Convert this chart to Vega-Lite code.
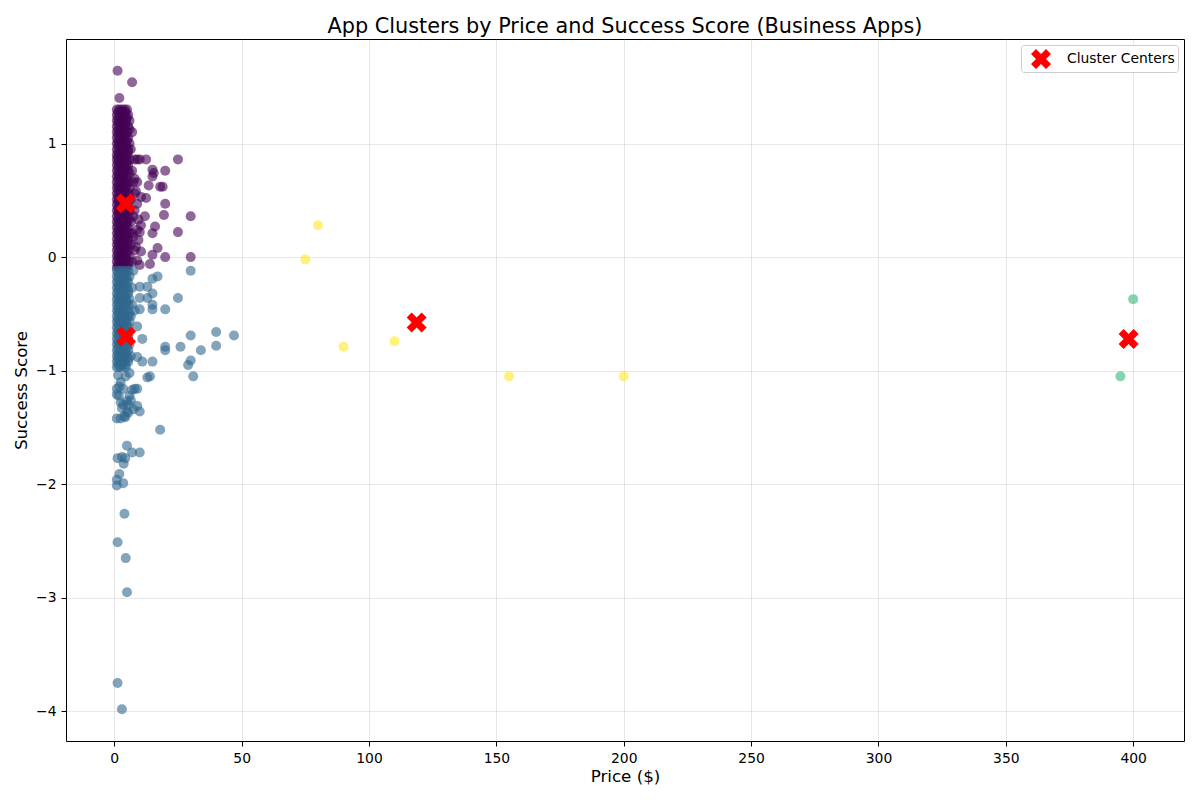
{
  "$schema": "https://vega.github.io/schema/vega-lite/v6.json",
  "width": 1118,
  "height": 702,
  "autosize": {"type": "none"},
  "padding": {"left": 66, "top": 39, "right": 16, "bottom": 59},
  "title": {
    "text": "App Clusters by Price and Success Score (Business Apps)",
    "frame": "group",
    "anchor": "middle",
    "baseline": "bottom",
    "offset": 4,
    "dy": 23,
    "font": "DejaVu Sans",
    "fontSize": 20.8,
    "fontWeight": "normal",
    "color": "black"
  },
  "datasets": {
    "apps": [
      {"price":0.99,"score":1.30,"cluster":0},{"price":1.99,"score":1.30,"cluster":0},{"price":2.99,"score":1.30,"cluster":0},{"price":3.99,"score":1.30,"cluster":0},{"price":4.99,"score":1.30,"cluster":0},
      {"price":0.99,"score":1.25,"cluster":0},{"price":2.49,"score":1.25,"cluster":0},{"price":3.99,"score":1.25,"cluster":0},{"price":5.49,"score":1.25,"cluster":0},
      {"price":0.99,"score":1.20,"cluster":0},{"price":1.99,"score":1.20,"cluster":0},{"price":2.99,"score":1.20,"cluster":0},{"price":4.49,"score":1.20,"cluster":0},{"price":5.99,"score":1.20,"cluster":0},
      {"price":0.99,"score":1.15,"cluster":0},{"price":2.49,"score":1.15,"cluster":0},{"price":3.99,"score":1.15,"cluster":0},{"price":5.49,"score":1.15,"cluster":0},
      {"price":0.99,"score":1.10,"cluster":0},{"price":1.99,"score":1.10,"cluster":0},{"price":3.49,"score":1.10,"cluster":0},{"price":4.99,"score":1.10,"cluster":0},{"price":6.99,"score":1.10,"cluster":0},
      {"price":0.99,"score":1.05,"cluster":0},{"price":2.49,"score":1.05,"cluster":0},{"price":3.99,"score":1.05,"cluster":0},{"price":5.49,"score":1.05,"cluster":0},
      {"price":0.99,"score":1.00,"cluster":0},{"price":1.99,"score":1.00,"cluster":0},{"price":2.99,"score":1.00,"cluster":0},{"price":4.49,"score":1.00,"cluster":0},{"price":5.99,"score":1.00,"cluster":0},
      {"price":0.99,"score":0.95,"cluster":0},{"price":2.49,"score":0.95,"cluster":0},{"price":3.99,"score":0.95,"cluster":0},{"price":5.49,"score":0.95,"cluster":0},{"price":6.49,"score":0.95,"cluster":0},
      {"price":0.99,"score":0.90,"cluster":0},{"price":1.99,"score":0.90,"cluster":0},{"price":3.49,"score":0.90,"cluster":0},{"price":4.99,"score":0.90,"cluster":0},
      {"price":0.99,"score":0.86,"cluster":0},{"price":2.49,"score":0.86,"cluster":0},{"price":3.99,"score":0.86,"cluster":0},{"price":5.99,"score":0.86,"cluster":0},{"price":7.99,"score":0.86,"cluster":0},{"price":8.99,"score":0.86,"cluster":0},
      {"price":0.99,"score":0.81,"cluster":0},{"price":1.99,"score":0.81,"cluster":0},{"price":2.99,"score":0.81,"cluster":0},{"price":4.49,"score":0.81,"cluster":0},{"price":5.49,"score":0.81,"cluster":0},
      {"price":0.99,"score":0.76,"cluster":0},{"price":2.49,"score":0.76,"cluster":0},{"price":3.99,"score":0.76,"cluster":0},{"price":5.49,"score":0.76,"cluster":0},{"price":6.99,"score":0.76,"cluster":0},
      {"price":0.99,"score":0.71,"cluster":0},{"price":1.99,"score":0.71,"cluster":0},{"price":3.49,"score":0.71,"cluster":0},{"price":4.99,"score":0.71,"cluster":0},
      {"price":0.99,"score":0.66,"cluster":0},{"price":2.49,"score":0.66,"cluster":0},{"price":3.99,"score":0.66,"cluster":0},{"price":5.49,"score":0.66,"cluster":0},{"price":7.49,"score":0.66,"cluster":0},
      {"price":0.99,"score":0.61,"cluster":0},{"price":1.99,"score":0.61,"cluster":0},{"price":2.99,"score":0.61,"cluster":0},{"price":4.49,"score":0.61,"cluster":0},{"price":5.99,"score":0.61,"cluster":0},
      {"price":0.99,"score":0.56,"cluster":0},{"price":2.49,"score":0.56,"cluster":0},{"price":3.99,"score":0.56,"cluster":0},{"price":5.49,"score":0.56,"cluster":0},{"price":7.99,"score":0.56,"cluster":0},
      {"price":0.99,"score":0.51,"cluster":0},{"price":1.99,"score":0.51,"cluster":0},{"price":3.49,"score":0.51,"cluster":0},{"price":4.99,"score":0.51,"cluster":0},{"price":6.49,"score":0.51,"cluster":0},
      {"price":0.99,"score":0.46,"cluster":0},{"price":2.49,"score":0.46,"cluster":0},{"price":3.99,"score":0.46,"cluster":0},{"price":5.49,"score":0.46,"cluster":0},
      {"price":0.99,"score":0.41,"cluster":0},{"price":1.99,"score":0.41,"cluster":0},{"price":2.99,"score":0.41,"cluster":0},{"price":4.49,"score":0.41,"cluster":0},{"price":5.99,"score":0.41,"cluster":0},{"price":7.99,"score":0.41,"cluster":0},
      {"price":0.99,"score":0.36,"cluster":0},{"price":2.49,"score":0.36,"cluster":0},{"price":3.99,"score":0.36,"cluster":0},{"price":5.49,"score":0.36,"cluster":0},
      {"price":0.99,"score":0.31,"cluster":0},{"price":1.99,"score":0.31,"cluster":0},{"price":3.49,"score":0.31,"cluster":0},{"price":4.99,"score":0.31,"cluster":0},{"price":6.49,"score":0.31,"cluster":0},
      {"price":0.99,"score":0.26,"cluster":0},{"price":2.49,"score":0.26,"cluster":0},{"price":3.99,"score":0.26,"cluster":0},{"price":5.49,"score":0.26,"cluster":0},
      {"price":0.99,"score":0.21,"cluster":0},{"price":1.99,"score":0.21,"cluster":0},{"price":2.99,"score":0.21,"cluster":0},{"price":4.49,"score":0.21,"cluster":0},{"price":5.99,"score":0.21,"cluster":0},{"price":6.99,"score":0.21,"cluster":0},
      {"price":0.99,"score":0.16,"cluster":0},{"price":2.49,"score":0.16,"cluster":0},{"price":3.99,"score":0.16,"cluster":0},{"price":5.49,"score":0.16,"cluster":0},
      {"price":0.99,"score":0.11,"cluster":0},{"price":1.99,"score":0.11,"cluster":0},{"price":3.49,"score":0.11,"cluster":0},{"price":4.99,"score":0.11,"cluster":0},{"price":6.49,"score":0.11,"cluster":0},
      {"price":0.99,"score":0.06,"cluster":0},{"price":2.49,"score":0.06,"cluster":0},{"price":3.99,"score":0.06,"cluster":0},{"price":5.49,"score":0.06,"cluster":0},{"price":7.99,"score":0.06,"cluster":0},
      {"price":0.99,"score":0.01,"cluster":0},{"price":1.99,"score":0.01,"cluster":0},{"price":2.99,"score":0.01,"cluster":0},{"price":4.49,"score":0.01,"cluster":0},{"price":5.99,"score":0.01,"cluster":0},
      {"price":0.99,"score":-0.04,"cluster":0},{"price":2.49,"score":-0.04,"cluster":0},{"price":3.99,"score":-0.04,"cluster":0},{"price":5.49,"score":-0.04,"cluster":0},{"price":6.99,"score":-0.04,"cluster":0},
      {"price":0.99,"score":-0.09,"cluster":0},{"price":1.99,"score":-0.09,"cluster":0},{"price":3.49,"score":-0.09,"cluster":0},{"price":4.99,"score":-0.09,"cluster":0},
      {"price":1.49,"score":1.275,"cluster":0},{"price":2.99,"score":1.275,"cluster":0},{"price":4.49,"score":1.275,"cluster":0},
      {"price":1.49,"score":1.225,"cluster":0},{"price":3.49,"score":1.225,"cluster":0},{"price":4.99,"score":1.225,"cluster":0},
      {"price":1.49,"score":1.175,"cluster":0},{"price":2.99,"score":1.175,"cluster":0},{"price":4.49,"score":1.175,"cluster":0},
      {"price":1.49,"score":1.125,"cluster":0},{"price":3.49,"score":1.125,"cluster":0},{"price":5.99,"score":1.125,"cluster":0},
      {"price":1.49,"score":1.075,"cluster":0},{"price":2.99,"score":1.075,"cluster":0},{"price":4.49,"score":1.075,"cluster":0},
      {"price":1.49,"score":1.025,"cluster":0},{"price":3.49,"score":1.025,"cluster":0},{"price":4.99,"score":1.025,"cluster":0},
      {"price":1.49,"score":0.975,"cluster":0},{"price":2.99,"score":0.975,"cluster":0},{"price":4.49,"score":0.975,"cluster":0},
      {"price":1.49,"score":0.925,"cluster":0},{"price":3.49,"score":0.925,"cluster":0},{"price":5.49,"score":0.925,"cluster":0},
      {"price":1.49,"score":0.88,"cluster":0},{"price":2.99,"score":0.88,"cluster":0},{"price":4.49,"score":0.88,"cluster":0},
      {"price":1.49,"score":0.835,"cluster":0},{"price":3.49,"score":0.835,"cluster":0},{"price":4.99,"score":0.835,"cluster":0},
      {"price":1.49,"score":0.785,"cluster":0},{"price":2.99,"score":0.785,"cluster":0},{"price":4.49,"score":0.785,"cluster":0},
      {"price":1.49,"score":0.735,"cluster":0},{"price":3.49,"score":0.735,"cluster":0},{"price":5.99,"score":0.735,"cluster":0},
      {"price":1.49,"score":0.685,"cluster":0},{"price":2.99,"score":0.685,"cluster":0},{"price":4.49,"score":0.685,"cluster":0},
      {"price":1.49,"score":0.635,"cluster":0},{"price":3.49,"score":0.635,"cluster":0},{"price":4.99,"score":0.635,"cluster":0},
      {"price":1.49,"score":0.585,"cluster":0},{"price":2.99,"score":0.585,"cluster":0},{"price":4.49,"score":0.585,"cluster":0},
      {"price":1.49,"score":0.535,"cluster":0},{"price":3.49,"score":0.535,"cluster":0},{"price":5.49,"score":0.535,"cluster":0},
      {"price":1.49,"score":0.485,"cluster":0},{"price":2.99,"score":0.485,"cluster":0},{"price":4.49,"score":0.485,"cluster":0},
      {"price":1.49,"score":0.435,"cluster":0},{"price":3.49,"score":0.435,"cluster":0},{"price":4.99,"score":0.435,"cluster":0},
      {"price":1.49,"score":0.385,"cluster":0},{"price":2.99,"score":0.385,"cluster":0},{"price":4.49,"score":0.385,"cluster":0},
      {"price":1.49,"score":0.335,"cluster":0},{"price":3.49,"score":0.335,"cluster":0},{"price":5.99,"score":0.335,"cluster":0},
      {"price":1.49,"score":0.285,"cluster":0},{"price":2.99,"score":0.285,"cluster":0},{"price":4.49,"score":0.285,"cluster":0},
      {"price":1.49,"score":0.235,"cluster":0},{"price":3.49,"score":0.235,"cluster":0},{"price":4.99,"score":0.235,"cluster":0},
      {"price":1.49,"score":0.185,"cluster":0},{"price":2.99,"score":0.185,"cluster":0},{"price":4.49,"score":0.185,"cluster":0},
      {"price":1.49,"score":0.135,"cluster":0},{"price":3.49,"score":0.135,"cluster":0},{"price":5.49,"score":0.135,"cluster":0},
      {"price":1.49,"score":0.085,"cluster":0},{"price":2.99,"score":0.085,"cluster":0},{"price":4.49,"score":0.085,"cluster":0},
      {"price":1.49,"score":0.035,"cluster":0},{"price":3.49,"score":0.035,"cluster":0},{"price":4.99,"score":0.035,"cluster":0},
      {"price":1.49,"score":-0.015,"cluster":0},{"price":2.99,"score":-0.015,"cluster":0},{"price":4.49,"score":-0.015,"cluster":0},
      {"price":1.49,"score":-0.065,"cluster":0},{"price":3.49,"score":-0.065,"cluster":0},{"price":5.49,"score":-0.065,"cluster":0},
      {"price":1.29,"score":1.64,"cluster":0},{"price":6.99,"score":1.54,"cluster":0},{"price":1.99,"score":1.40,"cluster":0},
      {"price":9.99,"score":0.86,"cluster":0},{"price":12.49,"score":0.86,"cluster":0},{"price":24.99,"score":0.86,"cluster":0},
      {"price":14.99,"score":0.77,"cluster":0},{"price":15.49,"score":0.74,"cluster":0},{"price":19.99,"score":0.76,"cluster":0},{"price":14.99,"score":0.71,"cluster":0},
      {"price":13.49,"score":0.63,"cluster":0},{"price":17.99,"score":0.62,"cluster":0},{"price":18.99,"score":0.62,"cluster":0},
      {"price":10.49,"score":0.53,"cluster":0},{"price":12.49,"score":0.52,"cluster":0},{"price":8.99,"score":0.47,"cluster":0},{"price":19.99,"score":0.47,"cluster":0},
      {"price":19.49,"score":0.37,"cluster":0},{"price":29.99,"score":0.36,"cluster":0},{"price":11.99,"score":0.36,"cluster":0},{"price":9.49,"score":0.33,"cluster":0},
      {"price":15.99,"score":0.27,"cluster":0},{"price":10.49,"score":0.28,"cluster":0},{"price":8.99,"score":0.24,"cluster":0},
      {"price":14.99,"score":0.21,"cluster":0},{"price":24.99,"score":0.22,"cluster":0},{"price":9.99,"score":0.22,"cluster":0},{"price":9.49,"score":0.15,"cluster":0},
      {"price":16.99,"score":0.08,"cluster":0},{"price":10.49,"score":0.05,"cluster":0},{"price":14.99,"score":0.02,"cluster":0},{"price":19.99,"score":0.0,"cluster":0},{"price":29.99,"score":0.0,"cluster":0},
      {"price":8.99,"score":-0.03,"cluster":0},{"price":13.99,"score":-0.06,"cluster":0},{"price":9.99,"score":-0.07,"cluster":0},
      {"price":7.99,"score":0.69,"cluster":0},{"price":8.99,"score":0.66,"cluster":0},{"price":8.49,"score":0.58,"cluster":0},{"price":7.49,"score":0.36,"cluster":0},{"price":7.49,"score":0.18,"cluster":0},{"price":8.49,"score":0.09,"cluster":0},

      {"price":0.99,"score":-0.12,"cluster":1},{"price":2.49,"score":-0.12,"cluster":1},{"price":3.99,"score":-0.12,"cluster":1},{"price":5.49,"score":-0.12,"cluster":1},{"price":7.49,"score":-0.12,"cluster":1},
      {"price":0.99,"score":-0.17,"cluster":1},{"price":1.99,"score":-0.17,"cluster":1},{"price":2.99,"score":-0.17,"cluster":1},{"price":4.49,"score":-0.17,"cluster":1},{"price":5.99,"score":-0.17,"cluster":1},
      {"price":0.99,"score":-0.22,"cluster":1},{"price":2.49,"score":-0.22,"cluster":1},{"price":3.99,"score":-0.22,"cluster":1},{"price":5.49,"score":-0.22,"cluster":1},
      {"price":0.99,"score":-0.27,"cluster":1},{"price":1.99,"score":-0.27,"cluster":1},{"price":3.49,"score":-0.27,"cluster":1},{"price":4.99,"score":-0.27,"cluster":1},{"price":6.99,"score":-0.27,"cluster":1},
      {"price":0.99,"score":-0.32,"cluster":1},{"price":2.49,"score":-0.32,"cluster":1},{"price":3.99,"score":-0.32,"cluster":1},{"price":5.49,"score":-0.32,"cluster":1},
      {"price":0.99,"score":-0.37,"cluster":1},{"price":1.99,"score":-0.37,"cluster":1},{"price":2.99,"score":-0.37,"cluster":1},{"price":4.49,"score":-0.37,"cluster":1},{"price":5.99,"score":-0.37,"cluster":1},
      {"price":0.99,"score":-0.42,"cluster":1},{"price":2.49,"score":-0.42,"cluster":1},{"price":3.99,"score":-0.42,"cluster":1},{"price":5.49,"score":-0.42,"cluster":1},{"price":6.99,"score":-0.42,"cluster":1},
      {"price":0.99,"score":-0.47,"cluster":1},{"price":1.99,"score":-0.47,"cluster":1},{"price":3.49,"score":-0.47,"cluster":1},{"price":4.99,"score":-0.47,"cluster":1},{"price":7.99,"score":-0.47,"cluster":1},
      {"price":0.99,"score":-0.52,"cluster":1},{"price":2.49,"score":-0.52,"cluster":1},{"price":3.99,"score":-0.52,"cluster":1},{"price":5.49,"score":-0.52,"cluster":1},{"price":6.49,"score":-0.52,"cluster":1},
      {"price":0.99,"score":-0.57,"cluster":1},{"price":1.99,"score":-0.57,"cluster":1},{"price":2.99,"score":-0.57,"cluster":1},{"price":4.49,"score":-0.57,"cluster":1},{"price":5.99,"score":-0.57,"cluster":1},
      {"price":0.99,"score":-0.62,"cluster":1},{"price":2.49,"score":-0.62,"cluster":1},{"price":3.99,"score":-0.62,"cluster":1},{"price":5.49,"score":-0.62,"cluster":1},
      {"price":0.99,"score":-0.67,"cluster":1},{"price":1.99,"score":-0.67,"cluster":1},{"price":3.49,"score":-0.67,"cluster":1},{"price":4.99,"score":-0.67,"cluster":1},
      {"price":0.99,"score":-0.72,"cluster":1},{"price":2.49,"score":-0.72,"cluster":1},{"price":3.99,"score":-0.72,"cluster":1},{"price":5.49,"score":-0.72,"cluster":1},
      {"price":0.99,"score":-0.77,"cluster":1},{"price":1.99,"score":-0.77,"cluster":1},{"price":2.99,"score":-0.77,"cluster":1},{"price":4.49,"score":-0.77,"cluster":1},{"price":5.99,"score":-0.77,"cluster":1},
      {"price":0.99,"score":-0.82,"cluster":1},{"price":2.49,"score":-0.82,"cluster":1},{"price":3.99,"score":-0.82,"cluster":1},{"price":5.49,"score":-0.82,"cluster":1},
      {"price":0.99,"score":-0.87,"cluster":1},{"price":1.99,"score":-0.87,"cluster":1},{"price":3.49,"score":-0.87,"cluster":1},{"price":4.99,"score":-0.87,"cluster":1},{"price":6.49,"score":-0.87,"cluster":1},
      {"price":0.99,"score":-0.92,"cluster":1},{"price":2.49,"score":-0.92,"cluster":1},{"price":3.99,"score":-0.92,"cluster":1},{"price":5.49,"score":-0.92,"cluster":1},
      {"price":0.99,"score":-0.97,"cluster":1},{"price":1.99,"score":-0.97,"cluster":1},{"price":2.99,"score":-0.97,"cluster":1},{"price":4.49,"score":-0.97,"cluster":1},
      {"price":1.49,"score":-0.145,"cluster":1},{"price":2.99,"score":-0.145,"cluster":1},{"price":4.49,"score":-0.145,"cluster":1},
      {"price":1.49,"score":-0.195,"cluster":1},{"price":3.49,"score":-0.195,"cluster":1},{"price":4.99,"score":-0.195,"cluster":1},
      {"price":1.49,"score":-0.245,"cluster":1},{"price":2.99,"score":-0.245,"cluster":1},{"price":4.49,"score":-0.245,"cluster":1},
      {"price":1.49,"score":-0.295,"cluster":1},{"price":3.49,"score":-0.295,"cluster":1},{"price":5.49,"score":-0.295,"cluster":1},
      {"price":1.49,"score":-0.345,"cluster":1},{"price":2.99,"score":-0.345,"cluster":1},{"price":4.49,"score":-0.345,"cluster":1},
      {"price":1.49,"score":-0.395,"cluster":1},{"price":3.49,"score":-0.395,"cluster":1},{"price":4.99,"score":-0.395,"cluster":1},
      {"price":1.49,"score":-0.445,"cluster":1},{"price":2.99,"score":-0.445,"cluster":1},{"price":4.49,"score":-0.445,"cluster":1},
      {"price":1.49,"score":-0.495,"cluster":1},{"price":3.49,"score":-0.495,"cluster":1},{"price":5.99,"score":-0.495,"cluster":1},
      {"price":1.49,"score":-0.545,"cluster":1},{"price":2.99,"score":-0.545,"cluster":1},{"price":4.49,"score":-0.545,"cluster":1},
      {"price":1.49,"score":-0.595,"cluster":1},{"price":3.49,"score":-0.595,"cluster":1},{"price":4.99,"score":-0.595,"cluster":1},
      {"price":1.49,"score":-0.645,"cluster":1},{"price":2.99,"score":-0.645,"cluster":1},{"price":4.49,"score":-0.645,"cluster":1},
      {"price":1.49,"score":-0.695,"cluster":1},{"price":3.49,"score":-0.695,"cluster":1},{"price":5.49,"score":-0.695,"cluster":1},
      {"price":1.49,"score":-0.745,"cluster":1},{"price":2.99,"score":-0.745,"cluster":1},{"price":4.49,"score":-0.745,"cluster":1},
      {"price":1.49,"score":-0.795,"cluster":1},{"price":3.49,"score":-0.795,"cluster":1},{"price":4.99,"score":-0.795,"cluster":1},
      {"price":1.49,"score":-0.845,"cluster":1},{"price":2.99,"score":-0.845,"cluster":1},{"price":4.49,"score":-0.845,"cluster":1},
      {"price":1.49,"score":-0.895,"cluster":1},{"price":3.49,"score":-0.895,"cluster":1},{"price":5.49,"score":-0.895,"cluster":1},
      {"price":1.49,"score":-0.945,"cluster":1},{"price":2.99,"score":-0.945,"cluster":1},{"price":4.49,"score":-0.945,"cluster":1},
      {"price":1.49,"score":-1.04,"cluster":1},{"price":4.49,"score":-1.05,"cluster":1},{"price":5.99,"score":-1.02,"cluster":1},{"price":2.49,"score":-1.10,"cluster":1},
      {"price":0.99,"score":-1.16,"cluster":1},{"price":3.49,"score":-1.16,"cluster":1},{"price":1.99,"score":-1.14,"cluster":1},{"price":0.99,"score":-1.21,"cluster":1},
      {"price":1.79,"score":-1.22,"cluster":1},{"price":5.99,"score":-1.22,"cluster":1},{"price":6.99,"score":-1.17,"cluster":1},{"price":4.99,"score":-1.27,"cluster":1},
      {"price":6.49,"score":-1.26,"cluster":1},{"price":2.49,"score":-1.28,"cluster":1},{"price":3.49,"score":-1.30,"cluster":1},{"price":5.49,"score":-1.30,"cluster":1},
      {"price":2.99,"score":-1.33,"cluster":1},{"price":4.99,"score":-1.36,"cluster":1},{"price":5.49,"score":-1.37,"cluster":1},{"price":3.99,"score":-1.40,"cluster":1},
      {"price":0.99,"score":-1.42,"cluster":1},{"price":2.49,"score":-1.42,"cluster":1},{"price":4.29,"score":-1.41,"cluster":1},
      {"price":29.99,"score":-0.12,"cluster":1},{"price":9.99,"score":-0.26,"cluster":1},{"price":12.99,"score":-0.26,"cluster":1},{"price":14.99,"score":-0.19,"cluster":1},
      {"price":16.99,"score":-0.17,"cluster":1},{"price":14.99,"score":-0.32,"cluster":1},{"price":9.99,"score":-0.36,"cluster":1},{"price":12.99,"score":-0.36,"cluster":1},
      {"price":24.99,"score":-0.36,"cluster":1},{"price":14.99,"score":-0.42,"cluster":1},{"price":14.99,"score":-0.46,"cluster":1},{"price":19.99,"score":-0.46,"cluster":1},
      {"price":9.99,"score":-0.46,"cluster":1},{"price":8.99,"score":-0.61,"cluster":1},{"price":10.99,"score":-0.72,"cluster":1},{"price":29.99,"score":-0.69,"cluster":1},
      {"price":39.99,"score":-0.66,"cluster":1},{"price":46.99,"score":-0.69,"cluster":1},{"price":19.99,"score":-0.79,"cluster":1},{"price":19.99,"score":-0.82,"cluster":1},
      {"price":25.99,"score":-0.79,"cluster":1},{"price":33.99,"score":-0.82,"cluster":1},{"price":39.99,"score":-0.78,"cluster":1},{"price":8.99,"score":-0.88,"cluster":1},
      {"price":10.99,"score":-0.92,"cluster":1},{"price":14.99,"score":-0.92,"cluster":1},{"price":29.99,"score":-0.91,"cluster":1},{"price":28.99,"score":-0.95,"cluster":1},
      {"price":30.99,"score":-1.05,"cluster":1},{"price":12.99,"score":-1.06,"cluster":1},{"price":13.99,"score":-1.05,"cluster":1},{"price":7.99,"score":-1.16,"cluster":1},
      {"price":8.99,"score":-1.16,"cluster":1},{"price":8.99,"score":-1.31,"cluster":1},{"price":9.99,"score":-1.36,"cluster":1},{"price":7.49,"score":-1.34,"cluster":1},
      {"price":17.99,"score":-1.52,"cluster":1},{"price":4.99,"score":-1.66,"cluster":1},{"price":6.99,"score":-1.72,"cluster":1},{"price":9.99,"score":-1.72,"cluster":1},
      {"price":1.29,"score":-1.77,"cluster":1},{"price":2.99,"score":-1.76,"cluster":1},{"price":4.29,"score":-1.77,"cluster":1},{"price":3.69,"score":-1.82,"cluster":1},
      {"price":1.99,"score":-1.91,"cluster":1},{"price":0.99,"score":-1.96,"cluster":1},{"price":0.99,"score":-2.01,"cluster":1},{"price":3.49,"score":-1.99,"cluster":1},
      {"price":3.99,"score":-2.26,"cluster":1},{"price":1.29,"score":-2.51,"cluster":1},{"price":4.49,"score":-2.65,"cluster":1},{"price":4.99,"score":-2.95,"cluster":1},
      {"price":1.29,"score":-3.75,"cluster":1},{"price":2.99,"score":-3.98,"cluster":1},

      {"price":399.99,"score":-0.37,"cluster":2},{"price":394.99,"score":-1.05,"cluster":2},

      {"price":74.99,"score":-0.02,"cluster":3},{"price":79.99,"score":0.28,"cluster":3},{"price":89.99,"score":-0.79,"cluster":3},
      {"price":109.99,"score":-0.74,"cluster":3},{"price":154.99,"score":-1.05,"cluster":3},{"price":199.99,"score":-1.05,"cluster":3}
    ],
    "centers": [
      {"price":4.5,"score":0.475,"label":"Cluster Centers"},
      {"price":4.6,"score":-0.70,"label":"Cluster Centers"},
      {"price":118.7,"score":-0.575,"label":"Cluster Centers"},
      {"price":398.2,"score":-0.72,"label":"Cluster Centers"}
    ]
  },
  "layer": [
    {
      "data": {"name": "apps"},
      "mark": {"type": "circle", "size": 100, "opacity": 0.6},
      "encoding": {
        "x": {
          "field": "price",
          "type": "quantitative",
          "title": "Price ($)",
          "scale": {"domain": [-18.96, 419.95], "nice": false, "zero": false},
          "axis": {"values": [0, 50, 100, 150, 200, 250, 300, 350, 400], "format": "d", "titlePadding": 4}
        },
        "y": {
          "field": "score",
          "type": "quantitative",
          "title": "Success Score",
          "scale": {"domain": [-4.26, 1.92], "nice": false, "zero": false},
          "axis": {"values": [-4, -3, -2, -1, 0, 1], "format": "d", "titlePadding": 5}
        },
        "color": {
          "field": "cluster",
          "type": "nominal",
          "scale": {"domain": [0, 1, 2, 3], "range": ["#440154", "#31688e", "#35b779", "#fde725"]},
          "legend": null
        }
      }
    },
    {
      "data": {"name": "centers"},
      "mark": {"type": "point", "filled": true, "size": 450, "opacity": 1, "strokeWidth": 0, "color": "#ff0000"},
      "encoding": {
        "x": {"field": "price", "type": "quantitative"},
        "y": {"field": "score", "type": "quantitative"},
        "shape": {
          "field": "label",
          "type": "nominal",
          "scale": {"domain": ["Cluster Centers"], "range": ["M0.4714,-0.9428L0.9428,-0.4714L0.4714,0L0.9428,0.4714L0.4714,0.9428L0,0.4714L-0.4714,0.9428L-0.9428,0.4714L-0.4714,0L-0.9428,-0.4714L-0.4714,-0.9428L0,-0.4714Z"]},
          "legend": {"title": null, "symbolFillColor": "#ff0000"}
        }
      }
    }
  ],
  "config": {
    "font": "DejaVu Sans",
    "view": {"stroke": "black", "strokeWidth": 1},
    "axis": {
      "domain": false,
      "grid": true,
      "gridColor": "#b0b0b0",
      "gridOpacity": 0.3,
      "gridWidth": 1,
      "tickColor": "black",
      "tickSize": 5,
      "tickWidth": 1,
      "labelPadding": 5,
      "labelFont": "DejaVu Sans",
      "labelFontSize": 13.9,
      "labelColor": "black",
      "titleFont": "DejaVu Sans",
      "titleFontSize": 16.7,
      "titleFontWeight": "normal",
      "titleColor": "black"
    },
    "legend": {
      "orient": "top-right",
      "offset": 6,
      "padding": 3,
      "symbolOffset": 6,
      "labelOffset": 15,
      "strokeColor": "#cccccc",
      "fillColor": "#ffffff",
      "cornerRadius": 3,
      "labelFont": "DejaVu Sans",
      "labelFontSize": 13.9,
      "labelColor": "black",
      "symbolSize": 450,
      "symbolStrokeWidth": 0
    }
  }
}
